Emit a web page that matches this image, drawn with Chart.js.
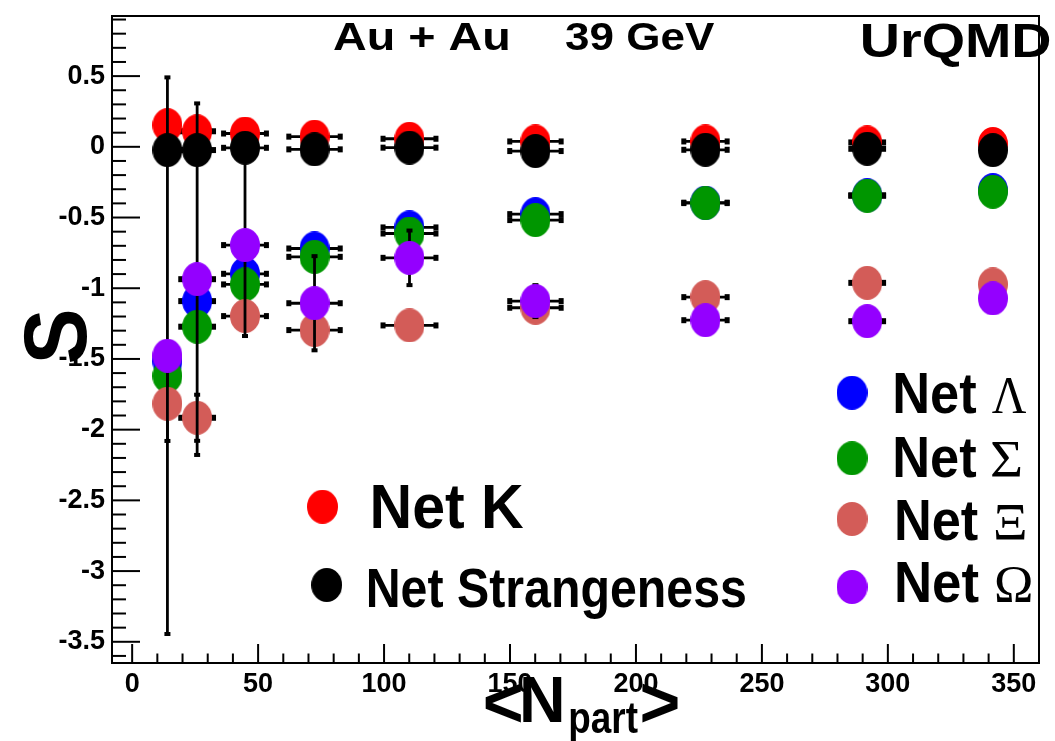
<!DOCTYPE html>
<html><head><meta charset="utf-8">
<script src="https://cdn.jsdelivr.net/npm/chart.js@4.4.0/dist/chart.umd.min.js"></script>
<style>html,body{margin:0;padding:0;background:#fff;} #wrap{width:1055px;height:741px;position:relative;overflow:hidden;}</style>
</head><body><div id="wrap"><canvas id="c" width="1055" height="741"></canvas></div>
<script>
// ---- data ----
const nPart      = [14.0, 25.8, 44.8, 72.4, 110.1, 160.1, 227.6, 291.8, 341.7];
const nPartErr   = [4, 7.1, 9.1, 10.8, 11.1, 10.8, 9.2, 7.1, 4];
const netK       = [0.153, 0.110, 0.094, 0.072, 0.057, 0.038, 0.038, 0.031, 0.020];
const netS       = [-0.023, -0.023, -0.007, -0.018, -0.006, -0.030, -0.021, -0.014, -0.023];
const netLambda  = [-1.515, -1.091, -0.898, -0.719, -0.570, -0.476, -0.395, -0.343, -0.306];
const netSigma   = [-1.620, -1.272, -0.973, -0.778, -0.613, -0.518, -0.398, -0.346, -0.318];
const netXi      = [-1.817, -1.916, -1.197, -1.296, -1.263, -1.138, -1.063, -0.962, -0.973];
const netXiErr   = [0.27, 0.17, 0, 0, 0, 0, 0, 0, 0];
const netOmega   = [-1.477, -0.936, -0.695, -1.106, -0.785, -1.091, -1.226, -1.233, -1.072];
const netOmegaErr= [1.975, 1.25, 0.65, 0.34, 0.20, 0.12, 0, 0, 0];
const noErr      = [0, 0, 0, 0, 0, 0, 0, 0, 0];
const xTickValues = [0, 50, 100, 150, 200, 250, 300, 350];
const yTickValues = [0.5, 0, -0.5, -1, -1.5, -2, -2.5, -3, -3.5];
const seriesNames = ['Net K', 'Net Strangeness', 'Net \u039B', 'Net \u03A3', 'Net \u039E', 'Net \u03A9'];
const titleLeft = 'Au + Au', titleRight = '39 GeV', modelName = 'UrQMD';
const yTitle = 'S', xTitleMain = 'N', xTitleSub = 'part';

const colors = ['#ff0000', '#000000', '#0000ff', '#009600', '#d35c58', '#9400ff'];
const series = [
  {name: seriesNames[0], y: netK, yErr: noErr},
  {name: seriesNames[1], y: netS, yErr: noErr},
  {name: seriesNames[2], y: netLambda, yErr: noErr},
  {name: seriesNames[3], y: netSigma, yErr: noErr},
  {name: seriesNames[4], y: netXi, yErr: netXiErr},
  {name: seriesNames[5], y: netOmega, yErr: netOmegaErr}
];

function ellipseImg(color) {
  const c = document.createElement('canvas'); c.width = 30; c.height = 34;
  const g = c.getContext('2d'); g.fillStyle = color;
  g.beginPath(); g.ellipse(15, 17, 15, 17, 0, 0, Math.PI * 2); g.fill();
  return c;
}
const markerImgs = colors.map(ellipseImg);

const SANS = "'Liberation Sans', Arial, Helvetica, sans-serif";
const SERIF = "'Liberation Serif', 'Times New Roman', serif";

function fitX(ctx, text, font, l, r, baseline) {
  ctx.font = font; const m = ctx.measureText(text);
  const w = m.actualBoundingBoxLeft + m.actualBoundingBoxRight;
  ctx.save(); ctx.translate(l, baseline); ctx.scale((r - l) / w, 1);
  ctx.textAlign = 'left'; ctx.textBaseline = 'alphabetic';
  ctx.fillText(text, m.actualBoundingBoxLeft, 0); ctx.restore();
}
function fitBox(ctx, text, font, l, r, t, b) {
  ctx.font = font; const m = ctx.measureText(text);
  const w = m.actualBoundingBoxLeft + m.actualBoundingBoxRight;
  const h = m.actualBoundingBoxAscent + m.actualBoundingBoxDescent;
  ctx.save(); ctx.translate(l, t); ctx.scale((r - l) / w, (b - t) / h);
  ctx.textAlign = 'left'; ctx.textBaseline = 'alphabetic';
  ctx.fillText(text, m.actualBoundingBoxLeft, m.actualBoundingBoxAscent); ctx.restore();
}

const errPlugin = {
  id: 'errbars',
  beforeDatasetDraw(chart, args) {
    const s = series[args.index]; if (!s) return;
    const xs = chart.scales.x, ys = chart.scales.y, ctx = chart.ctx;
    ctx.save(); ctx.strokeStyle = '#000'; ctx.fillStyle = '#000'; ctx.lineWidth = 2.8;
    nPart.forEach((xv, j) => {
      const px = xs.getPixelForValue(xv), py = ys.getPixelForValue(s.y[j]);
      const ex = nPartErr[j];
      if (ex > 0) {
        const x1 = xs.getPixelForValue(xv - ex), x2 = xs.getPixelForValue(xv + ex);
        ctx.beginPath(); ctx.moveTo(x1, py); ctx.lineTo(x2, py); ctx.stroke();
        ctx.fillRect(x1 - 1, py - 3, 5, 6); ctx.fillRect(x2 - 4, py - 3, 5, 6);
      }
      const ey = s.yErr[j];
      if (ey > 0) {
        const y1 = ys.getPixelForValue(s.y[j] + ey), y2 = ys.getPixelForValue(s.y[j] - ey);
        ctx.beginPath(); ctx.moveTo(px, y1); ctx.lineTo(px, y2); ctx.stroke();
        ctx.fillRect(px - 3, y1 - 1, 6, 4); ctx.fillRect(px - 3, y2 - 3, 6, 4);
      }
    });
    ctx.restore();
  }
};

const decoPlugin = {
  id: 'deco',
  afterDraw(chart) {
    const ctx = chart.ctx, xs = chart.scales.x, ys = chart.scales.y;
    const {left, right, top, bottom} = chart.chartArea;
    ctx.save();
    ctx.strokeStyle = '#000'; ctx.lineWidth = 2;
    ctx.strokeRect(left, top, right - left, bottom - top);
    // y axis ticks (inside)
    for (let k = -36; k <= 9; k++) {
      const py = ys.getPixelForValue(k / 10); const len = (k % 5 === 0) ? 28 : 14;
      ctx.beginPath(); ctx.moveTo(left, py); ctx.lineTo(left + len, py); ctx.stroke();
    }
    // x axis ticks (inside)
    for (let v = 0; v <= 360; v += 10) {
      const px = xs.getPixelForValue(v); const len = (v % 50 === 0) ? 19 : 9.5;
      ctx.beginPath(); ctx.moveTo(px, bottom); ctx.lineTo(px, bottom - len); ctx.stroke();
    }
    ctx.fillStyle = '#000';
    // titles
    fitX(ctx, titleLeft, 'bold 38px ' + SANS, 333, 508, 50);
    fitX(ctx, titleRight, 'bold 38px ' + SANS, 565, 715, 50);
    fitX(ctx, modelName, 'bold 49px ' + SANS, 862, 1050, 56.7);
    // y title (rotated)
    ctx.save(); ctx.rotate(-Math.PI / 2);
    fitBox(ctx, yTitle, 'bold 89px ' + SANS, -362.7, -311.7, 23, 87);
    ctx.restore();
    // x title  <N_part>
    fitBox(ctx, '<', 'bold 65px ' + SANS, 485, 521.7, 681.7, 723.3);
    fitX(ctx, xTitleMain, 'bold 65px ' + SANS, 523, 561.7, 721.7);
    fitX(ctx, xTitleSub, 'bold 44px ' + SANS, 570, 638.3, 733.3);
    fitBox(ctx, '>', 'bold 65px ' + SANS, 641.7, 678.3, 681.7, 723.3);
    // legend left
    const legL = [[322.5, 506.7, 373.3, 523.3, 528.3, 63], [326.7, 585, 368.3, 745, 606.7, 56]];
    legL.forEach((g, i) => {
      ctx.drawImage(markerImgs[i], g[0] - 15.5, g[1] - 17, 31, 34);
      fitX(ctx, series[i].name, 'bold ' + g[5] + 'px ' + SANS, g[2], g[3], g[4]);
    });
    // legend right
    const legR = [
      [392.7, 895, 976.7, 412.7, 991.7, 1026.7],
      [458.3, 895, 976.7, 476.7, 992.3, 1020.7],
      [519.0, 896.7, 978.3, 540.0, 995, 1025],
      [587.0, 896.7, 979, 601.7, 996, 1030.7]
    ];
    legR.forEach((g, k) => {
      const i = k + 2; const parts = series[i].name.split(' ');
      ctx.drawImage(markerImgs[i], 852 - 15.5, g[0] - 17, 31, 34);
      fitX(ctx, parts[0], 'bold 57px ' + SANS, g[1], g[2], g[3]);
      fitX(ctx, parts[1], '52px ' + SERIF, g[4], g[5], g[3]);
    });
    ctx.restore();
  }
};

Chart.defaults.color = '#000';
const tickFont = {family: SANS, size: 27, weight: 'bold'};

new Chart(document.getElementById('c'), {
  type: 'scatter',
  data: {
    datasets: series.map((s, i) => ({
      label: s.name,
      data: nPart.map((x, j) => ({x: x, y: s.y[j]})),
      pointStyle: markerImgs[i],
      pointRadius: 15, pointHoverRadius: 15,
      backgroundColor: colors[i], borderColor: colors[i],
      showLine: false,
      order: series.length - i
    }))
  },
  options: {
    responsive: false, animation: false,
    layout: {padding: {left: 0, top: 15, right: 3, bottom: 0}},
    plugins: {legend: {display: false}, tooltip: {enabled: false}},
    scales: {
      x: {
        type: 'linear', min: -8, max: 360,
        grid: {display: false, drawTicks: false}, border: {display: false},
        ticks: {font: tickFont, padding: 5, color: '#000', callback: v => String(v)},
        afterBuildTicks: s => { s.ticks = xTickValues.map(v => ({value: v})); },
        afterFit: s => { s.height = 78; s.paddingLeft = 0; s.paddingRight = 0; }
      },
      y: {
        type: 'linear', min: -3.65, max: 0.925,
        grid: {display: false, drawTicks: false}, border: {display: false},
        ticks: {font: tickFont, padding: 7, color: '#000', callback: v => String(v)},
        afterBuildTicks: s => { s.ticks = yTickValues.map(v => ({value: v})); },
        afterFit: s => { s.width = 112; s.paddingTop = 0; s.paddingBottom = 0; }
      }
    }
  },
  plugins: [errPlugin, decoPlugin]
});
</script>
</body></html>
